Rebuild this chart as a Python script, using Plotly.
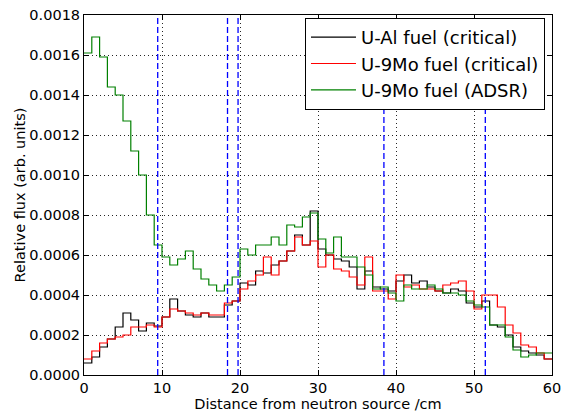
import plotly.graph_objects as go

# Bin edges (cm) - 1 cm bins from 0 to 60
bin_edges = list(range(0, 61))

u_al_critical = [
    0.00006, 0.00009, 0.00014, 0.00018, 0.00024, 0.00031, 0.000275, 0.00022, 0.00026, 0.000245,
    0.00029, 0.00038, 0.00032, 0.00030, 0.00029, 0.00031, 0.00029, 0.00029, 0.00035, 0.00037,
    0.00046, 0.00045, 0.00052, 0.00051, 0.00055, 0.00057, 0.00062, 0.00070, 0.00065, 0.00082,
    0.00063, 0.00060, 0.00058, 0.00057, 0.00054, 0.00043, 0.00052, 0.00044, 0.00043, 0.00042,
    0.00047, 0.00050, 0.00046, 0.00047, 0.00044, 0.00042, 0.00041, 0.00043, 0.00042, 0.00036,
    0.00034, 0.00037, 0.00025, 0.00024, 0.00020, 0.00014, 0.00012, 0.00011, 0.00010, 0.00008,
]

u9mo_critical = [
    0.00008, 0.00012, 0.00016, 0.00018, 0.00019, 0.00020, 0.00024, 0.00024, 0.00025, 0.00024,
    0.00029, 0.00033, 0.00032, 0.00031, 0.00030, 0.00031, 0.00030, 0.00030, 0.00036, 0.00037,
    0.00043, 0.00047, 0.00050, 0.00059, 0.00050, 0.00057, 0.00062, 0.00069, 0.00065, 0.00067,
    0.00054, 0.00060, 0.00053, 0.00052, 0.00049, 0.00045, 0.00059, 0.00042, 0.00042, 0.00038,
    0.00050, 0.00044, 0.00045, 0.00043, 0.00043, 0.00042, 0.00045, 0.00046, 0.00047, 0.00042,
    0.00033, 0.00040, 0.00040, 0.00034, 0.00025, 0.00021, 0.00015, 0.00014, 0.00011, 0.00008,
]

u9mo_adsr = [
    0.00161, 0.00169, 0.00159, 0.00144, 0.00140, 0.00127, 0.00112, 0.00100, 0.00080, 0.00065,
    0.00059, 0.00055, 0.00058, 0.00062, 0.00053, 0.00048, 0.00045, 0.00042, 0.00045, 0.00049,
    0.00063, 0.00060, 0.00065, 0.00065, 0.00069, 0.00065, 0.00075, 0.00074, 0.00079, 0.00081,
    0.00068, 0.00061, 0.00069, 0.00059, 0.00059, 0.00054, 0.00050, 0.00043, 0.00044, 0.00041,
    0.00037, 0.00045, 0.00043, 0.00043, 0.00045, 0.00043, 0.00041, 0.00041, 0.00040, 0.00037,
    0.00035, 0.00034, 0.00025, 0.00025, 0.00019, 0.000125, 0.00009, 0.00010, 0.00011, 0.00011,
]

series_names = ["U-Al fuel (critical)", "U-9Mo fuel (critical)", "U-9Mo fuel (ADSR)"]
series_colors = ["#000000", "#ff0000", "#008000"]

# Region boundaries (cm), blue dashed vertical lines
boundary_positions = [9.45, 18.4, 19.75, 38.45, 51.45]

x_ticks = [0, 10, 20, 30, 40, 50, 60]
y_ticks = [0.0000, 0.0002, 0.0004, 0.0006, 0.0008, 0.0010, 0.0012, 0.0014, 0.0016, 0.0018]

FONT = "DejaVu Sans"

fig = go.Figure()
for i, (name, vals, col) in enumerate(zip(series_names,
                                          [u_al_critical, u9mo_critical, u9mo_adsr],
                                          series_colors)):
    fig.add_trace(go.Scatter(
        x=bin_edges,
        y=vals + [vals[-1]],
        mode="lines",
        line=dict(color=col, width=1.2, shape="hv"),
        name=name,
    ))

for xp in boundary_positions:
    fig.add_shape(type="line", xref="x", yref="paper", x0=xp, x1=xp, y0=0, y1=1,
                  line=dict(color="#0000ff", width=1.3, dash="6px,3px"), layer="above")

axis_common = dict(
    showline=True, linecolor="black", linewidth=1, mirror="allticks",
    ticks="inside", ticklen=5, tickwidth=1, tickcolor="black",
    showgrid=True, gridcolor="rgba(0,0,0,0.85)", gridwidth=0.6, griddash="1px,3px",
    zeroline=False, automargin=False,
    tickfont=dict(family=FONT, size=14.5, color="black"),
)

fig.update_layout(
    width=563, height=415,
    margin=dict(l=84, r=11, t=15, b=40),
    paper_bgcolor="white", plot_bgcolor="white",
    font=dict(family=FONT, size=14.5, color="black"),
    showlegend=True,
    legend=dict(
        x=0.985, y=0.992, xanchor="right", yanchor="top",
        bgcolor="white", bordercolor="black", borderwidth=1,
        font=dict(family=FONT, size=18, color="black"),
        itemwidth=45,
    ),
    xaxis=dict(range=[0, 60], tickvals=x_ticks, ticktext=[str(v) for v in x_ticks],
               title=dict(text="Distance from neutron source /cm", standoff=0,
                          font=dict(family=FONT, size=14.5)),
               **axis_common),
    yaxis=dict(range=[0, 0.0018], tickvals=y_ticks, tickformat=".4f",
               title=dict(text="Relative flux (arb. units)", standoff=0,
                          font=dict(family=FONT, size=14.5)),
               **axis_common),
)

fig.write_html("out.html", config={"displayModeBar": False},
               post_script="document.body.style.margin='0';")
